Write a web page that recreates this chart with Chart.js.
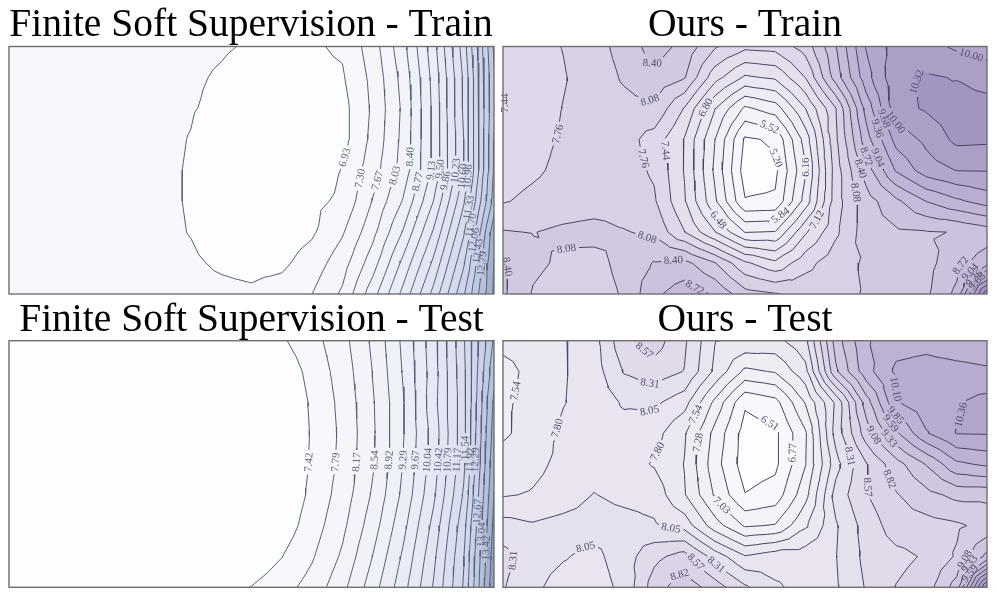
<!DOCTYPE html>
<html>
<head>
<meta charset="utf-8">
<title>Loss landscapes</title>
<script src="https://cdn.jsdelivr.net/npm/chart.js@4.4.1/dist/chart.umd.min.js"></script>
<style>
  html, body { margin: 0; padding: 0; background: #ffffff; }
  #page { position: relative; width: 997px; height: 598px; overflow: hidden; }
  #page canvas { position: absolute; }
</style>
</head>
<body>
<div id="page">
  <canvas id="panelTL" width="498" height="298" style="left:0;top:0"></canvas>
  <canvas id="panelTR" width="499" height="298" style="left:498px;top:0"></canvas>
  <canvas id="panelBL" width="498" height="300" style="left:0;top:298px"></canvas>
  <canvas id="panelBR" width="499" height="300" style="left:498px;top:298px"></canvas>
</div>
<script>
'use strict';

// ---- data -------------------------------------------------------------

var panelTitles = [
  'Finite Soft Supervision - Train',
  'Ours - Train',
  'Finite Soft Supervision - Test',
  'Ours - Test'
];

// contour levels
var tlLevels = [6.93, 7.30, 7.67, 8.03, 8.40, 8.77, 9.13, 9.50, 9.86, 10.23, 10.60, 10.96, 11.33, 11.70, 12.06, 12.43, 12.79, 13.16, 13.53];
var trLevels = [5.20, 5.52, 5.84, 6.16, 6.48, 6.80, 7.12, 7.44, 7.76, 8.08, 8.40, 8.72, 9.04, 9.36, 9.68, 10.00, 10.32, 10.64];
var blLevels = [7.42, 7.79, 8.17, 8.54, 8.92, 9.29, 9.67, 10.04, 10.42, 10.79, 11.17, 11.54, 11.92, 12.29, 12.67, 13.04, 13.42, 13.79];
var brLevels = [6.51, 6.77, 7.03, 7.28, 7.54, 7.80, 8.05, 8.31, 8.57, 8.82, 9.08, 9.33, 9.59, 9.85, 10.10, 10.36, 10.62, 10.87, 11.13];

// loss values on a 17 x 9 grid (rows top to bottom)
var tlGrid = [
  [7.18, 7.15, 7.12, 7.09, 7.06, 7.03, 7.00, 6.96, 6.90, 6.86, 6.89, 6.98, 7.49, 8.28, 9.35, 10.78, 12.85],
  [7.17, 7.14, 7.11, 7.08, 7.05, 7.02, 6.97, 6.90, 6.82, 6.80, 6.84, 6.89, 7.40, 8.16, 9.25, 10.66, 12.75],
  [7.17, 7.14, 7.10, 7.07, 7.04, 7.00, 6.95, 6.86, 6.70, 6.68, 6.72, 6.80, 7.36, 8.10, 9.21, 10.66, 12.75],
  [7.17, 7.14, 7.10, 7.06, 7.03, 6.99, 6.92, 6.75, 6.64, 6.62, 6.66, 6.80, 7.40, 8.13, 9.21, 10.60, 12.80],
  [7.16, 7.13, 7.09, 7.05, 7.02, 6.98, 6.91, 6.72, 6.60, 6.58, 6.68, 6.95, 7.50, 8.18, 9.21, 10.60, 12.85],
  [7.16, 7.13, 7.09, 7.05, 7.02, 6.98, 6.91, 6.75, 6.64, 6.64, 6.84, 7.00, 7.69, 8.43, 9.50, 10.91, 12.95],
  [7.16, 7.13, 7.09, 7.06, 7.03, 6.99, 6.92, 6.80, 6.72, 6.74, 6.88, 7.26, 7.92, 8.80, 9.90, 11.28, 13.40],
  [7.17, 7.14, 7.11, 7.08, 7.05, 7.02, 6.97, 6.89, 6.84, 6.86, 7.10, 7.51, 8.23, 9.23, 10.31, 11.65, 13.55],
  [7.18, 7.16, 7.13, 7.11, 7.08, 7.06, 7.03, 7.00, 6.98, 7.08, 7.30, 7.73, 8.62, 9.61, 10.71, 12.01, 13.60]
];

var trGrid = [
  [7.62, 7.66, 7.77, 7.95, 8.20, 8.55, 8.30, 7.80, 7.52, 7.56, 7.90, 8.70, 9.70, 10.15, 10.10, 9.95, 9.88],
  [7.47, 7.62, 7.74, 7.90, 8.12, 8.30, 8.10, 7.25, 6.75, 6.85, 7.45, 8.55, 9.55, 10.25, 10.36, 10.30, 10.15],
  [7.42, 7.60, 7.77, 7.88, 7.98, 8.02, 7.42, 6.50, 5.78, 6.00, 6.80, 7.75, 9.15, 10.20, 10.36, 10.50, 10.48],
  [7.55, 7.68, 7.79, 7.88, 7.90, 7.62, 7.10, 6.17, 5.15, 5.25, 6.30, 7.70, 8.90, 9.80, 10.08, 10.40, 10.38],
  [7.65, 7.72, 7.82, 7.90, 7.88, 7.72, 7.10, 6.10, 5.05, 5.12, 6.13, 7.60, 8.55, 9.40, 9.85, 10.01, 10.02],
  [7.74, 7.82, 7.88, 7.92, 7.92, 7.80, 7.15, 6.22, 5.22, 5.25, 6.30, 7.62, 8.25, 8.65, 9.05, 9.30, 9.50],
  [8.10, 8.07, 8.15, 8.20, 8.10, 8.02, 7.45, 6.82, 6.15, 6.18, 7.08, 7.70, 8.25, 8.35, 8.38, 8.41, 8.55],
  [8.45, 8.15, 8.02, 7.95, 8.20, 8.42, 8.50, 8.10, 7.50, 7.20, 7.65, 7.95, 8.12, 8.25, 8.30, 8.60, 8.90],
  [8.45, 8.05, 7.92, 7.90, 8.12, 8.65, 8.90, 8.68, 8.20, 8.10, 7.98, 8.00, 8.10, 8.25, 8.35, 8.80, 10.90]
];

var blGrid = [
  [7.05, 7.05, 7.06, 7.06, 7.07, 7.07, 7.08, 7.09, 7.10, 7.37, 7.65, 8.04, 8.61, 9.37, 10.27, 11.49, 13.10],
  [7.05, 7.05, 7.06, 7.06, 7.07, 7.07, 7.08, 7.09, 7.10, 7.17, 7.54, 7.96, 8.55, 9.32, 10.23, 11.45, 13.30],
  [7.05, 7.05, 7.06, 7.06, 7.07, 7.07, 7.08, 7.09, 7.10, 7.10, 7.47, 7.90, 8.50, 9.26, 10.27, 11.40, 13.50],
  [7.05, 7.05, 7.06, 7.06, 7.07, 7.07, 7.08, 7.09, 7.10, 7.12, 7.45, 7.87, 8.48, 9.26, 10.19, 11.42, 13.60],
  [7.05, 7.05, 7.06, 7.06, 7.07, 7.07, 7.08, 7.09, 7.10, 7.12, 7.46, 7.89, 8.50, 9.30, 10.23, 11.45, 13.70],
  [7.05, 7.05, 7.06, 7.06, 7.07, 7.07, 7.08, 7.09, 7.11, 7.13, 7.50, 7.96, 8.59, 9.38, 10.34, 11.59, 13.80],
  [7.05, 7.05, 7.06, 7.06, 7.07, 7.08, 7.09, 7.10, 7.12, 7.21, 7.60, 8.08, 8.74, 9.55, 10.53, 11.78, 13.90],
  [7.05, 7.05, 7.06, 7.06, 7.07, 7.08, 7.09, 7.11, 7.15, 7.41, 7.75, 8.23, 8.93, 9.73, 10.69, 11.90, 14.00],
  [7.06, 7.07, 7.08, 7.10, 7.13, 7.17, 7.22, 7.30, 7.43, 7.64, 7.94, 8.43, 9.12, 9.90, 10.82, 11.96, 14.10]
];

var brGrid = [
  [7.62, 7.66, 7.78, 7.95, 8.50, 8.70, 8.35, 7.81, 7.75, 7.72, 7.98, 9.20, 9.82, 10.00, 10.02, 9.95, 9.92],
  [7.45, 7.62, 7.78, 7.92, 8.33, 8.45, 8.30, 7.75, 7.22, 7.30, 7.72, 9.03, 9.75, 10.15, 10.20, 10.18, 10.14],
  [7.50, 7.62, 7.79, 7.90, 8.08, 8.10, 7.90, 7.22, 6.55, 6.68, 7.30, 8.10, 9.20, 10.08, 10.28, 10.34, 10.45],
  [7.50, 7.65, 7.85, 7.92, 7.95, 7.90, 7.57, 6.95, 6.40, 6.45, 7.00, 8.15, 8.95, 9.55, 10.08, 10.37, 10.38],
  [7.65, 7.74, 7.86, 7.92, 7.90, 7.78, 7.53, 6.88, 6.38, 6.45, 7.02, 7.95, 8.55, 8.98, 9.35, 9.80, 9.90],
  [7.78, 7.82, 7.90, 8.06, 7.98, 7.95, 7.56, 7.00, 6.52, 6.62, 7.20, 8.15, 8.55, 8.80, 9.00, 9.15, 9.15],
  [8.15, 8.08, 8.15, 8.18, 8.15, 8.08, 7.95, 7.40, 7.00, 7.05, 7.50, 8.02, 8.42, 8.70, 8.72, 8.78, 8.90],
  [8.40, 8.15, 8.07, 7.98, 8.18, 8.50, 8.68, 8.20, 7.82, 7.95, 7.95, 8.04, 8.38, 8.50, 8.60, 8.85, 9.40],
  [8.33, 8.10, 7.95, 7.92, 8.12, 8.70, 8.98, 8.70, 8.35, 8.08, 7.98, 8.02, 8.33, 8.58, 8.70, 9.20, 11.20]
];

// where the inline labels sit: [level, column, row]
var tlLabelSpots = [
  [6.93, 11.02, 3.57], [7.30, 11.65, 4.28], [7.67, 12.21, 4.35], [8.03, 12.90, 4.22],
  [8.40, 13.33, 3.57], [8.77, 13.53, 4.38], [9.13, 13.99, 4.02], [9.50, 14.28, 3.96],
  [9.86, 14.48, 4.35], [10.23, 14.98, 4.06], [10.60, 15.11, 4.22], [10.96, 15.27, 4.22],
  [11.33, 15.44, 5.25], [11.70, 15.54, 5.83], [12.06, 15.64, 6.29], [12.43, 15.70, 6.64],
  [12.79, 15.77, 7.03]
];
var trLabelSpots = [
  [7.44, 0.07, 1.83], [7.76, 1.75, 2.80], [7.76, 4.69, 3.60], [8.08, 4.79, 1.89],
  [8.08, 4.79, 6.09], [8.08, 2.12, 6.80], [8.08, 11.57, 4.74], [8.40, 4.86, 0.60],
  [8.40, 5.62, 6.80], [8.40, 0.23, 7.13], [8.40, 11.90, 3.93], [8.72, 6.45, 7.55],
  [8.72, 11.97, 3.57], [8.72, 15.14, 7.13], [9.04, 12.46, 3.57], [9.04, 15.44, 7.29],
  [9.36, 12.23, 2.70], [9.36, 15.57, 7.48], [9.68, 12.40, 2.38], [9.68, 15.70, 7.64],
  [10.00, 12.99, 2.44], [10.00, 15.44, 0.44], [10.32, 12.89, 1.31], [5.20, 9.06, 3.60],
  [5.52, 8.86, 2.38], [5.84, 9.09, 5.38], [6.16, 10.02, 3.90], [6.48, 7.11, 5.61],
  [6.80, 6.68, 1.96], [7.12, 10.31, 5.54], [7.44, 5.55, 3.35]
];
var blLabelSpots = [
  [7.42, 9.86, 3.94], [7.79, 10.82, 3.94], [8.17, 11.48, 3.94], [8.54, 12.07, 3.87],
  [8.92, 12.50, 3.87], [9.29, 13.00, 3.87], [9.67, 13.39, 3.87], [10.04, 13.79, 3.87],
  [10.42, 14.15, 3.87], [10.79, 14.48, 3.87], [11.17, 14.81, 3.87], [11.54, 15.11, 3.48],
  [11.92, 15.31, 3.87], [12.29, 15.54, 3.87], [12.67, 15.70, 5.56], [13.04, 15.74, 6.30],
  [13.42, 15.80, 6.73]
];
var brLabelSpots = [
  [7.54, 0.76, 1.70], [7.54, 6.28, 2.34], [7.80, 1.75, 2.83], [7.80, 5.09, 3.59],
  [8.57, 4.73, 0.25], [8.57, 6.45, 7.11], [8.57, 12.13, 4.75], [8.31, 4.86, 1.37],
  [8.31, 7.11, 7.18], [8.31, 0.56, 7.18], [8.31, 11.34, 3.81], [8.05, 4.86, 2.51],
  [8.05, 5.55, 6.08], [8.05, 2.74, 6.79], [8.82, 5.85, 7.60], [8.82, 13.39, 4.17],
  [9.08, 12.13, 3.16], [9.08, 15.31, 7.18], [9.33, 12.83, 3.12], [9.59, 12.83, 2.67],
  [9.85, 12.99, 2.41], [10.10, 12.73, 1.60], [10.36, 14.94, 2.31], [6.51, 8.93, 2.41],
  [6.77, 9.59, 3.64], [7.03, 7.17, 5.40], [7.28, 6.35, 3.29], [9.33, 15.50, 7.40],
  [9.59, 15.62, 7.60]
];

// ---- styles -----------------------------------------------------------

var blueRamp = [[0, '#fdfdfe'], [0.05, '#f7f8fb'], [0.3, '#edf0f6'], [0.5, '#e2e6f2'],
  [0.65, '#d7dcee'], [0.8, '#c8cfe7'], [0.9, '#b4c0dc'], [1, '#93a2ba']];
var purpleRamp = [[0, '#fdfcff'], [0.06, '#f8f6fb'], [0.22, '#efebf4'], [0.39, '#e4deed'],
  [0.5, '#d8d1e6'], [0.61, '#cbc2dd'], [0.72, '#bfb4d5'], [0.83, '#b3a7cd'],
  [0.94, '#a496c2'], [1, '#9c8dbd']];

var LABEL_FONT = '11px "Liberation Serif", "Times New Roman", serif';
var TITLE_FONT = '39.5px "Liberation Serif", "Times New Roman", serif';

var panels = [
  { id: 'panelTL', title: panelTitles[0], grid: tlGrid, levels: tlLevels, spots: tlLabelSpots,
    ramp: blueRamp, lineColor: '#59617a', textColor: '#5d6479',
    pad: { left: 9, top: 46.5, right: 4, bottom: 4 }, titleX: 251, titleY: 36 },
  { id: 'panelTR', title: panelTitles[1], grid: trGrid, levels: trLevels, spots: trLabelSpots,
    ramp: purpleRamp, lineColor: '#4b465f', textColor: '#544f68',
    pad: { left: 5, top: 46.5, right: 10, bottom: 4 }, titleX: 247, titleY: 36 },
  { id: 'panelBL', title: panelTitles[2], grid: blGrid, levels: blLevels, spots: blLabelSpots,
    ramp: blueRamp, lineColor: '#59617a', textColor: '#5d6479',
    pad: { left: 9, top: 42.7, right: 4, bottom: 10.7 }, titleX: 251.5, titleY: 33 },
  { id: 'panelBR', title: panelTitles[3], grid: brGrid, levels: brLevels, spots: brLabelSpots,
    ramp: purpleRamp, lineColor: '#4b465f', textColor: '#544f68',
    pad: { left: 5, top: 42.7, right: 10, bottom: 10.7 }, titleX: 247, titleY: 33 }
];

// ---- field helpers ----------------------------------------------------

function hexToRgb(h) {
  var n = parseInt(h.slice(1), 16);
  return [(n >> 16) & 255, (n >> 8) & 255, n & 255];
}

function rampColor(ramp, t) {
  t = Math.max(0, Math.min(1, t));
  for (var i = 1; i < ramp.length; i++) {
    if (t <= ramp[i][0]) {
      var a = ramp[i - 1], b = ramp[i];
      var f = (t - a[0]) / (b[0] - a[0]);
      var ca = hexToRgb(a[1]), cb = hexToRgb(b[1]);
      return [0, 1, 2].map(function(k) { return Math.round(ca[k] + f * (cb[k] - ca[k])); });
    }
  }
  return hexToRgb(ramp[ramp.length - 1][1]);
}

// every grid cell is split into four triangles around its centre
function buildField(grid) {
  var ny = grid.length, nx = grid[0].length, tris = [];
  for (var j = 0; j < ny - 1; j++) {
    for (var i = 0; i < nx - 1; i++) {
      var a = { id: 'g' + i + '_' + j, x: i, y: j, z: grid[j][i] };
      var b = { id: 'g' + (i + 1) + '_' + j, x: i + 1, y: j, z: grid[j][i + 1] };
      var c = { id: 'g' + (i + 1) + '_' + (j + 1), x: i + 1, y: j + 1, z: grid[j + 1][i + 1] };
      var d = { id: 'g' + i + '_' + (j + 1), x: i, y: j + 1, z: grid[j + 1][i] };
      var m = { id: 'm' + i + '_' + j, x: i + 0.5, y: j + 0.5, z: (a.z + b.z + c.z + d.z) / 4 };
      tris.push([a, b, m], [b, c, m], [c, d, m], [d, a, m]);
    }
  }
  return { nx: nx, ny: ny, tris: tris };
}

function planeValue(tri, x, y) {
  var p = tri[0], q = tri[1], r = tri[2];
  var det = (q.y - r.y) * (p.x - r.x) + (r.x - q.x) * (p.y - r.y);
  var l1 = ((q.y - r.y) * (x - r.x) + (r.x - q.x) * (y - r.y)) / det;
  var l2 = ((r.y - p.y) * (x - r.x) + (p.x - r.x) * (y - r.y)) / det;
  return l1 * p.z + l2 * q.z + (1 - l1 - l2) * r.z;
}

function valueAt(f, u, v) {
  var i = Math.min(Math.max(Math.floor(u), 0), f.nx - 2);
  var j = Math.min(Math.max(Math.floor(v), 0), f.ny - 2);
  var k = (j * (f.nx - 1) + i) * 4;
  var dx = u - i - 0.5, dy = v - j - 0.5, t;
  if (Math.abs(dy) >= Math.abs(dx)) t = dy < 0 ? 0 : 2;
  else t = dx > 0 ? 1 : 3;
  return planeValue(f.tris[k + t], u, v);
}

function chainSegments(segs) {
  var adj = {}, used = [], lines = [];
  segs.forEach(function(s, n) {
    used.push(false);
    s.forEach(function(p) { (adj[p.key] = adj[p.key] || []).push(n); });
  });
  function walk(seg, pt) {
    var line = [pt];
    while (seg !== -1 && !used[seg]) {
      used[seg] = true;
      var s = segs[seg];
      var nxt = s[0].key === pt.key ? s[1] : s[0];
      line.push(nxt);
      pt = nxt;
      seg = -1;
      var list = adj[pt.key];
      for (var q = 0; q < list.length; q++) {
        if (!used[list[q]]) { seg = list[q]; break; }
      }
    }
    return line;
  }
  Object.keys(adj).forEach(function(k) {
    if (adj[k].length === 1 && !used[adj[k][0]]) {
      var n = adj[k][0];
      lines.push(walk(n, segs[n][0].key === k ? segs[n][0] : segs[n][1]));
    }
  });
  segs.forEach(function(s, n) { if (!used[n]) lines.push(walk(n, s[0])); });
  return lines;
}

// marching triangles for one level
function contourLines(f, level) {
  var pts = {}, segs = [];
  function cross(p, q) {
    var s = p.id < q.id ? p : q, e = p.id < q.id ? q : p;
    var key = s.id + '|' + e.id;
    if (!pts[key]) {
      var t = (level - s.z) / (e.z - s.z);
      pts[key] = { key: key, x: s.x + t * (e.x - s.x), y: s.y + t * (e.y - s.y) };
    }
    return pts[key];
  }
  f.tris.forEach(function(tri) {
    var hits = [];
    for (var e = 0; e < 3; e++) {
      var p = tri[e], q = tri[(e + 1) % 3];
      if ((p.z >= level) !== (q.z >= level)) hits.push(cross(p, q));
    }
    if (hits.length === 2) segs.push(hits);
  });
  return chainSegments(segs);
}

function nearestOnLines(lines, u, v, sx, sy, half) {
  var X = u * sx, Y = v * sy, best = null;
  lines.forEach(function(l) {
    for (var n = 1; n < l.length; n++) {
      var ax = l[n - 1].x * sx, ay = l[n - 1].y * sy, bx = l[n].x * sx, by = l[n].y * sy;
      var dx = bx - ax, dy = by - ay, len2 = dx * dx + dy * dy;
      if (len2 === 0) continue;
      var t = Math.max(0, Math.min(1, ((X - ax) * dx + (Y - ay) * dy) / len2));
      var px = ax + t * dx, py = ay + t * dy;
      var d = Math.hypot(px - X, py - Y);
      if (!best || d < best.dist) best = { dist: d, px: px, py: py, line: l, seg: n };
    }
  });
  if (!best) return null;
  // local direction over the label length
  var l = best.line, i0 = best.seg - 1, i1 = best.seg;
  while (i0 > 0 && Math.hypot(l[i0].x * sx - best.px, l[i0].y * sy - best.py) < half) i0--;
  while (i1 < l.length - 1 && Math.hypot(l[i1].x * sx - best.px, l[i1].y * sy - best.py) < half) i1++;
  var ang = Math.atan2((l[i1].y - l[i0].y) * sy, (l[i1].x - l[i0].x) * sx);
  if (ang >= Math.PI / 2) ang -= Math.PI;
  if (ang < -Math.PI / 2) ang += Math.PI;
  return { dist: best.dist, x: best.px / sx, y: best.py / sy, angle: ang };
}

// break the lines where a label sits
function cutGaps(lines, gaps, sx, sy) {
  var pieces = lines.map(function(l) { return l.map(function(p) { return [p.x * sx, p.y * sy]; }); });
  gaps.forEach(function(g) {
    var cx = g.x * sx, cy = g.y * sy, r = g.r, out = [];
    pieces.forEach(function(line) {
      var cur = [];
      var f0x = line[0][0] - cx, f0y = line[0][1] - cy;
      if (f0x * f0x + f0y * f0y >= r * r) cur.push(line[0]);
      for (var n = 1; n < line.length; n++) {
        var q = line[n - 1], p = line[n];
        var dx = p[0] - q[0], dy = p[1] - q[1];
        var fx = q[0] - cx, fy = q[1] - cy;
        var a = dx * dx + dy * dy, b = fx * dx + fy * dy, c = fx * fx + fy * fy - r * r;
        var disc = b * b - a * c, qIn = c < 0;
        if (a === 0 || disc <= 0) { if (!qIn) cur.push(p); continue; }
        var sq = Math.sqrt(disc), t1 = (-b - sq) / a, t2 = (-b + sq) / a;
        if (qIn) {
          if (t2 < 1) cur = [[q[0] + t2 * dx, q[1] + t2 * dy], p];
        } else if (t1 > 0 && t1 < 1) {
          cur.push([q[0] + t1 * dx, q[1] + t1 * dy]);
          if (cur.length > 1) out.push(cur);
          cur = t2 < 1 ? [[q[0] + t2 * dx, q[1] + t2 * dy], p] : [];
        } else {
          cur.push(p);
        }
      }
      if (cur.length > 1) out.push(cur);
    });
    pieces = out;
  });
  return pieces.map(function(l) { return l.map(function(p) { return { x: p[0] / sx, y: p[1] / sy }; }); });
}

// ---- drawing ----------------------------------------------------------

var panelState = {};

var contourPlugin = {
  id: 'contourPanel',
  beforeDatasetsDraw: function(chart) {
    var st = panelState[chart.canvas.id];
    var area = chart.chartArea, xs = chart.scales.x, ys = chart.scales.y;
    var w = Math.round(area.right - area.left), h = Math.round(area.bottom - area.top);
    var off = document.createElement('canvas');
    off.width = w; off.height = h;
    var octx = off.getContext('2d');
    var img = octx.createImageData(w, h);
    var us = [], vs = [];
    for (var px = 0; px < w; px++) us.push(xs.getValueForPixel(area.left + (px + 0.5) * (area.right - area.left) / w));
    for (var py = 0; py < h; py++) vs.push(ys.getValueForPixel(area.top + (py + 0.5) * (area.bottom - area.top) / h));
    for (py = 0; py < h; py++) {
      for (px = 0; px < w; px++) {
        var z = valueAt(st.field, us[px], vs[py]);
        var k = 0;
        while (k < st.levels.length && z >= st.levels[k]) k++;
        var c = st.bandRGB[k], o = (py * w + px) * 4;
        img.data[o] = c[0]; img.data[o + 1] = c[1]; img.data[o + 2] = c[2]; img.data[o + 3] = 255;
      }
    }
    octx.putImageData(img, 0, 0);
    chart.ctx.drawImage(off, area.left, area.top, area.right - area.left, area.bottom - area.top);
  },
  afterDatasetsDraw: function(chart) {
    var st = panelState[chart.canvas.id];
    var ctx = chart.ctx, xs = chart.scales.x, ys = chart.scales.y, area = chart.chartArea;
    ctx.save();
    ctx.font = LABEL_FONT;
    ctx.fillStyle = st.textColor;
    ctx.textAlign = 'center';
    ctx.textBaseline = 'middle';
    st.labels.forEach(function(lb) {
      ctx.save();
      ctx.translate(xs.getPixelForValue(lb.u), ys.getPixelForValue(lb.v));
      ctx.rotate(lb.angle);
      ctx.fillText(lb.text, 0, 0.5);
      ctx.restore();
    });
    ctx.strokeStyle = '#6f6f6f';
    ctx.lineWidth = 1.4;
    ctx.strokeRect(area.left, area.top, area.right - area.left, area.bottom - area.top);
    ctx.restore();
  },
  afterDraw: function(chart) {
    var st = panelState[chart.canvas.id];
    var ctx = chart.ctx;
    ctx.save();
    ctx.font = TITLE_FONT;
    ctx.fillStyle = '#000000';
    ctx.textAlign = 'center';
    ctx.textBaseline = 'alphabetic';
    ctx.fillText(st.title, st.titleX, st.titleY);
    ctx.restore();
  }
};

var measureCtx = document.createElement('canvas').getContext('2d');
measureCtx.font = LABEL_FONT;

function makePanel(cfg) {
  var field = buildField(cfg.grid);
  var maxU = field.nx - 1, maxV = field.ny - 1;
  var canvas = document.getElementById(cfg.id);
  var sx = (canvas.width - cfg.pad.left - cfg.pad.right) / maxU;
  var sy = (canvas.height - cfg.pad.top - cfg.pad.bottom) / maxV;
  var nBands = cfg.levels.length;
  var bandRGB = [];
  for (var k = 0; k <= nBands; k++) bandRGB.push(rampColor(cfg.ramp, k / nBands));

  var labels = [];
  var datasets = cfg.levels.map(function(level) {
    var lines = contourLines(field, level);
    var gaps = [];
    cfg.spots.forEach(function(s) {
      if (Math.abs(s[0] - level) > 1e-6) return;
      var text = level.toFixed(2);
      var half = measureCtx.measureText(text).width / 2;
      var hit = nearestOnLines(lines, s[1], s[2], sx, sy, half);
      if (!hit || hit.dist > 40) return;
      labels.push({ text: text, u: hit.x, v: hit.y, angle: hit.angle });
      gaps.push({ x: hit.x, y: hit.y, r: half + 3 });
    });
    var data = [];
    cutGaps(lines, gaps, sx, sy).forEach(function(piece) {
      piece.forEach(function(p) { data.push(p); });
      data.push({ x: NaN, y: NaN });
    });
    return {
      label: level.toFixed(2),
      data: data,
      showLine: true,
      borderColor: cfg.lineColor,
      borderWidth: 1,
      pointRadius: 0,
      pointHoverRadius: 0,
      fill: false,
      spanGaps: false,
      borderCapStyle: 'round',
      borderJoinStyle: 'round'
    };
  });

  panelState[cfg.id] = {
    field: field, levels: cfg.levels, bandRGB: bandRGB, labels: labels,
    textColor: cfg.textColor, title: cfg.title, titleX: cfg.titleX, titleY: cfg.titleY
  };

  return new Chart(canvas, {
    type: 'scatter',
    data: { datasets: datasets },
    options: {
      responsive: false,
      animation: false,
      devicePixelRatio: 1,
      events: [],
      layout: { padding: cfg.pad },
      scales: {
        x: { type: 'linear', min: 0, max: maxU, display: false },
        y: { type: 'linear', min: 0, max: maxV, reverse: true, display: false }
      },
      plugins: {
        legend: { display: false },
        tooltip: { enabled: false },
        title: { display: false }
      }
    },
    plugins: [contourPlugin]
  });
}

panels.forEach(makePanel);
</script>
</body>
</html>
